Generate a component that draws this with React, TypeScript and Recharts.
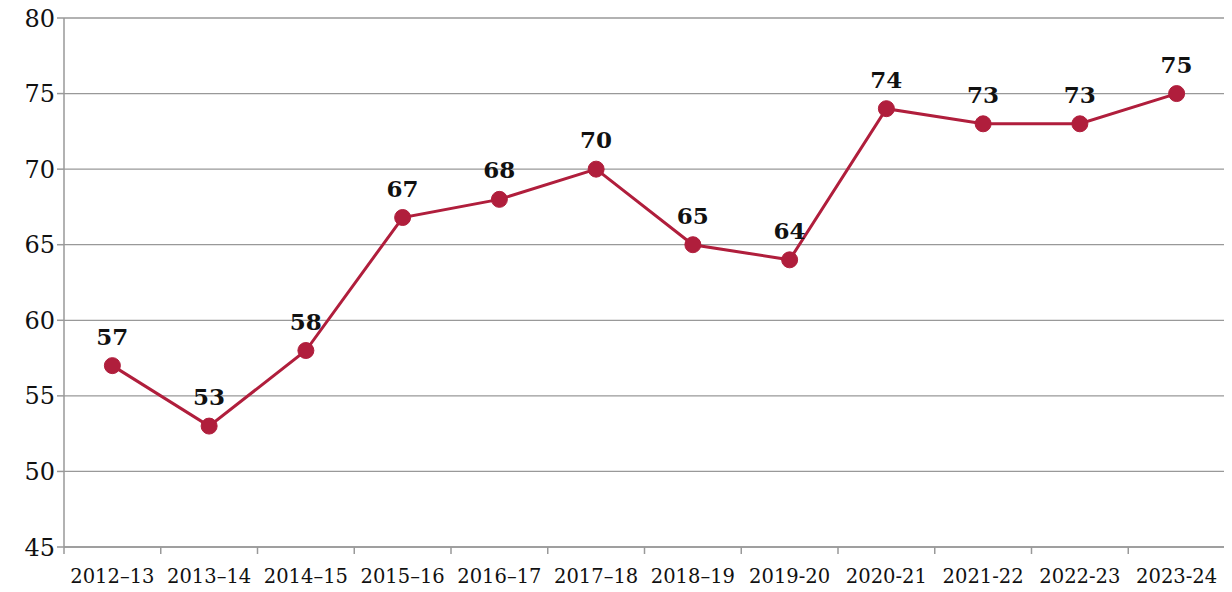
import { LineChart, Line, XAxis, YAxis, CartesianGrid, LabelList } from "recharts";

// --------------------
// Data
// --------------------
const years = [
  "2012–13",
  "2013–14",
  "2014–15",
  "2015–16",
  "2016–17",
  "2017–18",
  "2018–19",
  "2019-20",
  "2020-21",
  "2021-22",
  "2022-23",
  "2023-24",
];
const scores = [57, 53, 58, 66.8, 68, 70, 65, 64, 74, 73, 73, 75];
const yTicks = [45, 50, 55, 60, 65, 70, 75, 80];

const RED = "#b01e3c";
const GRAY = "#999999";
const FONT = "'DejaVu Serif', 'Liberation Serif', serif";

const data = years.map((year, i) => ({ x: i + 0.5, year, value: scores[i] }));
const boundaryTicks = years.map((_, i) => i).concat(years.length);
const centerTicks = years.map((_, i) => i + 0.5);

export default function App() {
  return (
    // negative margin collapses with the body margin so the top tick label fits
    <div style={{ marginTop: -8 }}>
      <LineChart
        width={1224}
        height={590}
        data={data}
        margin={{ top: 18, right: 7, left: 0, bottom: 0 }}
      >
        <CartesianGrid vertical={false} stroke={GRAY} strokeWidth={1.3} />
        <XAxis
          xAxisId="frame"
          type="number"
          dataKey="x"
          domain={[0, years.length]}
          ticks={boundaryTicks}
          tickFormatter={() => ""}
          stroke={GRAY}
          strokeWidth={1.5}
          tickSize={7}
          height={8}
          allowDataOverflow
        />
        <XAxis
          xAxisId="label"
          type="number"
          dataKey="x"
          domain={[0, years.length]}
          ticks={centerTicks}
          tickFormatter={(v: number) => years[Math.round(v - 0.5)]}
          axisLine={false}
          tickLine={false}
          tickMargin={8}
          interval={0}
          height={35}
          tick={{ fill: "#111", fontSize: 19.5, fontFamily: FONT }}
          allowDataOverflow
        />
        <YAxis
          domain={[45, 80]}
          ticks={yTicks}
          width={56}
          stroke={GRAY}
          strokeWidth={1.5}
          tickSize={7}
          tick={{ fill: "#111", fontSize: 24, fontFamily: FONT }}
          interval={0}
        />
        <Line
          xAxisId="label"
          dataKey="value"
          stroke={RED}
          strokeWidth={3}
          dot={{ r: 8, fill: RED, stroke: RED, strokeWidth: 1 }}
          isAnimationActive={false}
        >
          <LabelList
            dataKey="value"
            position="top"
            offset={21}
            formatter={(v: number) => Math.round(v)}
            style={{ fontSize: 23, fontWeight: "bold", fontFamily: FONT, fill: "#111" }}
          />
        </Line>
      </LineChart>
    </div>
  );
}
